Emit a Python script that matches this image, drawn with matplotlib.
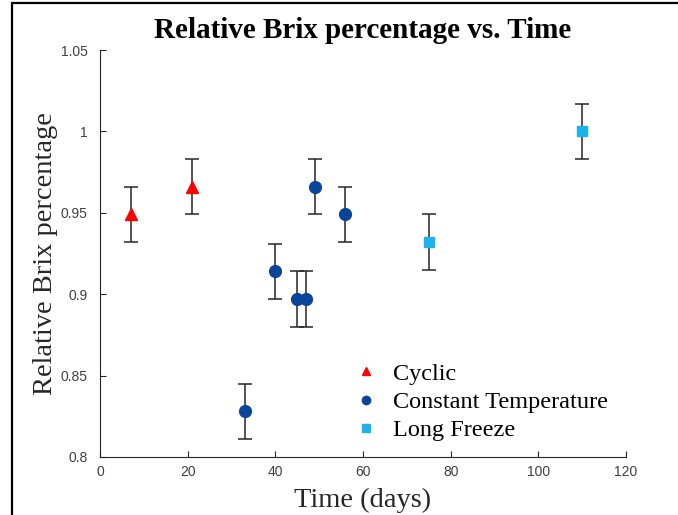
import matplotlib
matplotlib.use("Agg")
import matplotlib.pyplot as plt
from matplotlib.patches import Rectangle

# data
cyc_days = [7, 21]
cyc_brix = [0.949, 0.966]
const_days = [33, 40, 45, 47, 49, 56]
const_brix = [0.828, 0.914, 0.897, 0.897, 0.966, 0.949]
freeze_days = [75, 110]
freeze_brix = [0.932, 1.0]
err = 0.017

serif = ["Liberation Serif", "DejaVu Serif"]
sans = ["Liberation Sans", "DejaVu Sans"]

fig = plt.figure(figsize=(6.78, 5.15), dpi=100)
W, H = 678, 515
ax = fig.add_axes([100 / W, 1 - 457 / H, 526 / W, 407 / H])

eb = dict(yerr=err, ls="none", ecolor="#262626", elinewidth=1.1, capsize=5, capthick=1.1)
ax.errorbar(cyc_days, cyc_brix, marker="^", ms=9, color="#ff0000", mec="#ff0000", **eb)
ax.errorbar(const_days, const_brix, marker="o", ms=8.5, color="#0a4599", mec="#0a4599", **eb)
ax.errorbar(freeze_days, freeze_brix, marker="s", ms=7.5, color="#1eb2f0", mec="#1eb2f0", **eb)

# legend handles without error bars
h1, = ax.plot([], [], "^", ms=6, color="#ff0000", label="Cyclic")
h2, = ax.plot([], [], "o", ms=6, color="#0a4599", label="Constant Temperature")
h3, = ax.plot([], [], "s", ms=5.5, color="#1eb2f0", label="Long Freeze")
ax.legend(handles=[h1, h2, h3], loc="upper left", bbox_to_anchor=(0.465, 0.255),
          frameon=False, prop={"family": serif, "size": 17.5}, handlelength=1.0,
          handletextpad=0.6, labelspacing=0.25, borderaxespad=0)

ax.set_xlim(0, 120)
ax.set_ylim(0.8, 1.05)
ax.set_xticks(range(0, 121, 20))
ax.set_yticks([0.8, 0.85, 0.9, 0.95, 1.0, 1.05])
ax.set_yticklabels(["0.8", "0.85", "0.9", "0.95", "1", "1.05"])
ax.spines["top"].set_visible(False)
ax.spines["right"].set_visible(False)
for s in ["left", "bottom"]:
    ax.spines[s].set_color("#262626")
    ax.spines[s].set_linewidth(0.8)
ax.tick_params(direction="in", length=4, width=0.8, colors="#262626", labelsize=10)
ax.tick_params(axis="x", pad=6)
ax.tick_params(axis="y", pad=9)
for lab in ax.get_xticklabels() + ax.get_yticklabels():
    lab.set_family(sans)
    lab.set_color("#404040")

ax.set_xlabel("Time (days)", family=serif, fontsize=20.5, color="#262626", labelpad=6)
ax.set_ylabel("Relative Brix percentage", family=serif, fontsize=20.5, color="#262626", labelpad=2)
fig.text(363 / W, 1 - 30 / H, "Relative Brix percentage vs. Time", family=serif,
         fontsize=21, fontweight="bold", ha="center", va="center")

# outer frame of the pasted figure
fig.patches.append(Rectangle((12 / W, -0.05), 1.2, 1 - 3 / H + 0.05, transform=fig.transFigure,
                             fill=False, edgecolor="black", linewidth=1.6))

fig.savefig("out.png", dpi=100, facecolor="white")
